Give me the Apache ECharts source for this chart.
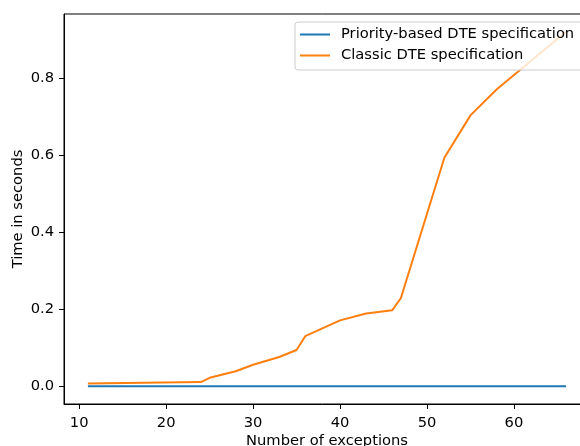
<!DOCTYPE html>
<html>
<head>
<meta charset="utf-8">
<script src="https://cdn.jsdelivr.net/npm/echarts@6/dist/echarts.min.js"></script>
<style>
html,body{margin:0;padding:0;background:#fff;}
#chart{width:580px;height:446px;}
</style>
</head>
<body>
<div id="chart"></div>
<script>
const exceptions = [11, 24, 25, 28, 30, 33, 35, 36, 40, 43, 46, 47, 52, 55, 58, 66];
const classicTimes = [0.007, 0.011, 0.022, 0.039, 0.056, 0.076, 0.094, 0.130, 0.171, 0.189, 0.197, 0.229, 0.593, 0.703, 0.770, 0.920];
const priorityTimes = [0, 0, 0, 0, 0, 0, 0, 0, 0, 0, 0, 0, 0, 0, 0, 0];
const xTicks = [10, 20, 30, 40, 50, 60];
const yTicks = [0.0, 0.2, 0.4, 0.6, 0.8];
const seriesNames = ['Priority-based DTE specification', 'Classic DTE specification'];

const font = 'DejaVu Sans';
const fs = 14.7;
const chart = echarts.init(document.getElementById('chart'), null, {renderer: 'canvas'});
chart.setOption({
  animation: false,
  backgroundColor: '#ffffff',
  grid: {left: 64, top: 14, width: 526, height: 390, show: true, borderColor: '#000', borderWidth: 1,
         backgroundColor: 'transparent', containLabel: false, outerBoundsMode: 'none'},
  legend: {
    orient: 'vertical', left: 295, top: 22,
    icon: 'rect', itemWidth: 30, itemHeight: 2, itemGap: 6,
    padding: [5, 12, 7, 5],
    backgroundColor: 'rgba(255,255,255,0.8)', borderColor: '#cccccc', borderWidth: 1, borderRadius: 3,
    textStyle: {fontFamily: font, fontSize: fs, color: '#000', padding: [0, 0, 0, 6], lineHeight: 15},
    data: seriesNames
  },
  xAxis: {
    type: 'value', min: 8.25, max: 68.75,
    name: 'Number of exceptions', nameLocation: 'middle', nameGap: 30, nameMoveOverlap: false,
    nameTextStyle: {fontFamily: font, fontSize: fs, color: '#000', verticalAlign: 'top'},
    axisLine: {show: true, onZero: false, lineStyle: {color: '#000', width: 1}},
    axisTick: {show: true, length: 5, lineStyle: {color: '#000'}, customValues: xTicks},
    axisLabel: {fontFamily: font, fontSize: fs, color: '#000', margin: 12, customValues: xTicks, formatter: v => String(v)},
    splitLine: {show: false}
  },
  yAxis: {
    type: 'value', min: -0.046, max: 0.966,
    name: 'Time in seconds', nameLocation: 'middle', nameGap: 38, nameRotate: 90, nameMoveOverlap: false,
    nameTextStyle: {fontFamily: font, fontSize: fs, color: '#000'},
    axisLine: {show: true, onZero: false, lineStyle: {color: '#000', width: 1}},
    axisTick: {show: true, length: 5, lineStyle: {color: '#000'}, customValues: yTicks},
    axisLabel: {fontFamily: font, fontSize: fs, color: '#000', margin: 10, customValues: yTicks, formatter: v => v.toFixed(1)},
    splitLine: {show: false}
  },
  series: [
    {name: seriesNames[0], type: 'line', symbol: 'none', lineStyle: {color: '#1f77b4', width: 2}, itemStyle: {color: '#1f77b4'},
     data: exceptions.map((x, i) => [x, priorityTimes[i]])},
    {name: seriesNames[1], type: 'line', symbol: 'none', lineStyle: {color: '#ff7f0e', width: 2}, itemStyle: {color: '#ff7f0e'},
     data: exceptions.map((x, i) => [x, classicTimes[i]])}
  ]
});
</script>
</body>
</html>
